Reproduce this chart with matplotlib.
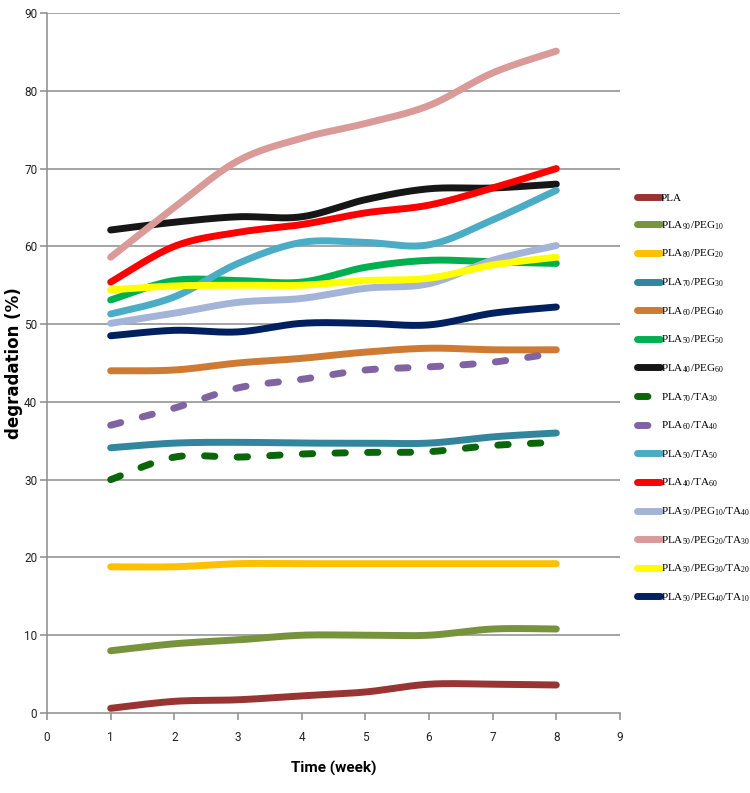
import numpy as np
import matplotlib
matplotlib.use('Agg')
import matplotlib.pyplot as plt
from matplotlib.lines import Line2D

weeks = [1, 2, 3, 4, 5, 6, 7, 8]

names = ['PLA', 'PLA90/PEG10', 'PLA80/PEG20', 'PLA70/PEG30', 'PLA60/PEG40',
         'PLA50/PEG50', 'PLA40/PEG60', 'PLA70/TA30', 'PLA60/TA40', 'PLA50/TA50',
         'PLA40/TA60', 'PLA50/PEG10/TA40', 'PLA50/PEG20/TA30',
         'PLA50/PEG30/TA20', 'PLA50/PEG40/TA10']

pla = [0.6, 1.5, 1.7, 2.2, 2.7, 3.7, 3.7, 3.6]
pla90_peg10 = [8.0, 8.9, 9.4, 10.0, 10.0, 10.0, 10.8, 10.8]
pla80_peg20 = [18.8, 18.8, 19.2, 19.2, 19.2, 19.2, 19.2, 19.2]
pla70_peg30 = [34.1, 34.7, 34.8, 34.7, 34.7, 34.7, 35.5, 36.0]
pla60_peg40 = [44.0, 44.1, 45.0, 45.6, 46.4, 46.9, 46.7, 46.7]
pla50_peg50 = [53.1, 55.6, 55.6, 55.4, 57.3, 58.2, 58.0, 57.8]
pla40_peg60 = [62.1, 63.1, 63.8, 63.8, 66.0, 67.4, 67.5, 68.0]
pla70_ta30 = [30.0, 32.9, 32.9, 33.3, 33.5, 33.6, 34.4, 34.8]
pla60_ta40 = [37.0, 39.2, 41.8, 42.9, 44.1, 44.5, 45.1, 46.3]
pla50_ta50 = [51.3, 53.5, 57.8, 60.5, 60.5, 60.2, 63.4, 67.2]
pla40_ta60 = [55.4, 60.0, 61.8, 62.8, 64.3, 65.3, 67.5, 70.0]
pla50_peg10_ta40 = [50.1, 51.4, 52.8, 53.3, 54.6, 55.2, 58.2, 60.1]
pla50_peg20_ta30 = [58.6, 65.0, 71.0, 73.9, 75.8, 78.1, 82.3, 85.1]
pla50_peg30_ta20 = [54.4, 54.9, 55.0, 55.0, 55.6, 55.9, 57.6, 58.6]
pla50_peg40_ta10 = [48.5, 49.2, 49.0, 50.1, 50.1, 49.9, 51.4, 52.2]

series = [pla, pla90_peg10, pla80_peg20, pla70_peg30, pla60_peg40, pla50_peg50,
          pla40_peg60, pla70_ta30, pla60_ta40, pla50_ta50, pla40_ta60,
          pla50_peg10_ta40, pla50_peg20_ta30, pla50_peg30_ta20, pla50_peg40_ta10]

colors = ['#983431', '#77933c', '#ffc000', '#31859c', '#cf7a33', '#00b050',
          '#161616', '#0b660b', '#8064a2', '#4bacc6', '#ff0000', '#a3b4d8',
          '#d99a98', '#ffff00', '#002060']
dashed = ['PLA70/TA30', 'PLA60/TA40']


def smooth(x, y, n=24):
    # excel style smoothed line (bezier / catmull-rom)
    pts = np.column_stack([x, y]).astype(float)
    P = np.vstack([pts[0], pts, pts[-1]])
    out = []
    t = np.linspace(0, 1, n)[:, None]
    for i in range(1, len(P) - 2):
        p0, p1, p2, p3 = P[i-1], P[i], P[i+1], P[i+2]
        c1 = p1 + (p2 - p0) / 6
        c2 = p2 - (p3 - p1) / 6
        seg = (1-t)**3*p1 + 3*(1-t)**2*t*c1 + 3*(1-t)*t**2*c2 + t**3*p2
        out.append(seg if i == 1 else seg[1:])
    return np.vstack(out)


def label(name):
    parts = name.split('/')
    s = []
    for p in parts:
        head = p.rstrip('0123456789')
        num = p[len(head):]
        s.append(head + (r'$\mathregular{_{%s}}$' % num if num else ''))
    return '/'.join(s)


narrow = ['Roboto', 'DejaVu Sans']

fig = plt.figure(figsize=(7.5, 7.93), dpi=100)
ax = fig.add_axes([47/750, 80/793, 573/750, 700/793])

for yv in range(10, 100, 10):
    ax.axhline(yv, color='#8c8c8c', lw=1.1, zorder=0)

handles = []
for name, vals, c in zip(names, series, colors):
    S = smooth(weeks, vals)
    if name in dashed:
        ax.plot(S[:, 0], S[:, 1], color=c, lw=5, dashes=(1.5, 3.2),
                dash_capstyle='round', zorder=2)
        h = Line2D([], [], color=c, lw=5, dashes=(1.5, 3.2),
                   dash_capstyle='round')
    else:
        ax.plot(S[:, 0], S[:, 1], color=c, lw=5,
                solid_capstyle='round', zorder=2)
        h = Line2D([], [], color=c, lw=5, solid_capstyle='round')
    handles.append(h)

ax.set_xlim(0, 9)
ax.set_ylim(0, 90)
ax.set_xticks(range(0, 10))
ax.set_yticks(range(0, 100, 10))
for sp in ['top', 'right']:
    ax.spines[sp].set_visible(False)
for sp in ['left', 'bottom']:
    ax.spines[sp].set_color('#8c8c8c')
    ax.spines[sp].set_linewidth(1.1)
ax.tick_params(axis='both', direction='out', length=5, color='#8c8c8c',
               width=1.1, labelsize=8.5, labelcolor='#222222')
ax.tick_params(axis='x', pad=8)
ax.tick_params(axis='y', pad=2)
for t in ax.get_xticklabels() + ax.get_yticklabels():
    t.set_family(narrow)

ax.set_xlabel('Time (week)', family=narrow, fontweight='bold', fontsize=11,
              labelpad=12)
ax.set_ylabel('degradation (%)', fontweight='bold', fontsize=12)
ax.yaxis.set_label_coords(-24/573, 0.5)

fig.legend(handles, [label(n) for n in names], loc='upper left',
           bbox_to_anchor=(633/750, 1 - 189/793), frameon=False,
           prop={'family': 'Liberation Serif', 'size': 8},
           handlelength=2.0, handletextpad=0.1, labelspacing=1.45,
           borderaxespad=0)

fig.savefig('out.png', dpi=100)
